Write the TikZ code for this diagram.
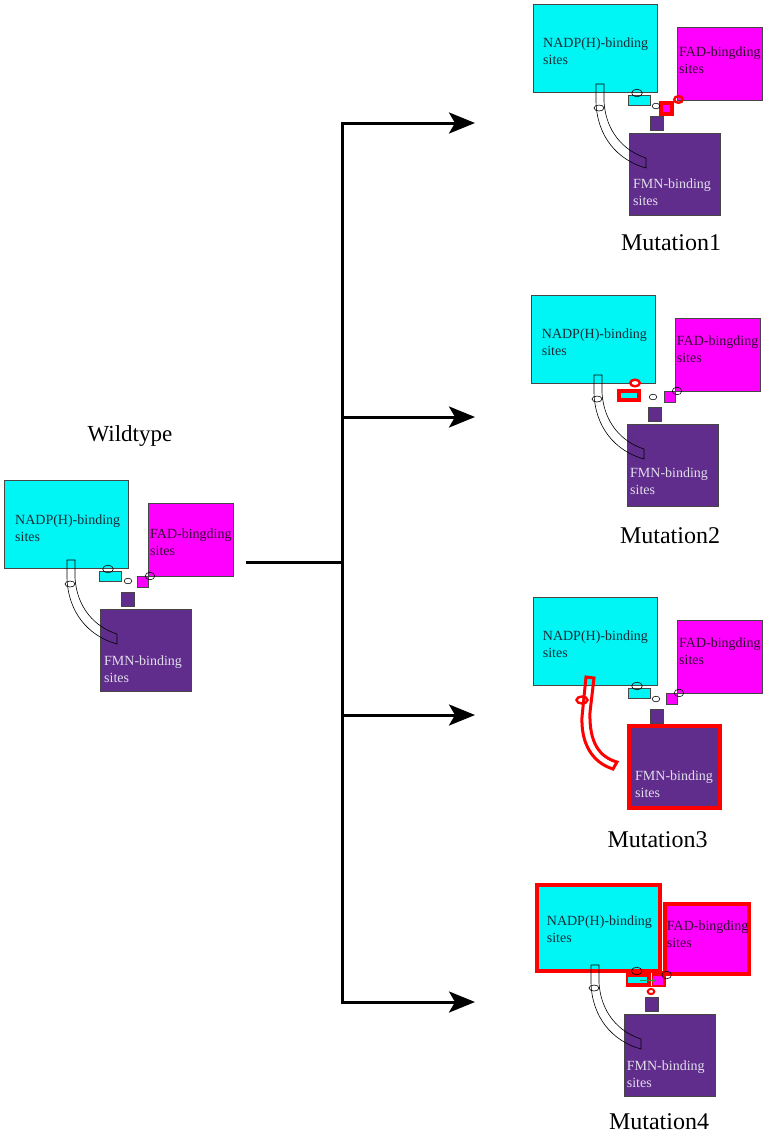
\documentclass[tikz,border=0pt]{standalone}
\usepackage{fontspec}
\setmainfont{Liberation Serif}
\usetikzlibrary{arrows.meta}
\definecolor{cy}{RGB}{0,245,245}
\definecolor{mg}{RGB}{255,0,255}
\definecolor{pu}{RGB}{97,45,140}
\definecolor{edgec}{RGB}{70,70,70}
\definecolor{nadptext}{RGB}{25,45,55}
\definecolor{fadtext}{RGB}{50,10,50}
\definecolor{fmntext}{RGB}{225,222,235}
\definecolor{hl}{RGB}{255,0,0}
\definecolor{gr}{RGB}{40,160,60}
\begin{document}
\begin{tikzpicture}[x=1pt,y=-1pt,
 box/.style={draw=edgec,line width=0.7pt},
 hlbox/.style={draw=hl,line width=3.5pt},
 ring/.style={draw=black,line width=0.6pt},
 hlring/.style={draw=hl,line width=2.4pt},
 tubeline/.style={draw=black,line width=0.6pt},
 hltube/.style={draw=hl,line width=3pt},
 lbl/.style={inner sep=0pt,anchor=north west,align=left,font=\fontsize{14}{17}\selectfont},
 nadplbl/.style={lbl,text=nadptext},
 fadlbl/.style={lbl,text=fadtext},
 fmnlbl/.style={lbl,text=fmntext},
 caption/.style={inner sep=0pt,anchor=base,font=\fontsize{24}{28}\selectfont},
 flow/.style={line width=3pt,-{Stealth[length=26pt,width=21pt,inset=6pt]}},
 flowline/.style={line width=3pt}]
\fill[white] (0,0) rectangle (767,1135);
\useasboundingbox (0,0) rectangle (767,1135);

% ---------------- Wildtype ----------------
\begin{scope}
\draw[box,fill=cy] (4,480) rectangle (128,568);
\draw[box,fill=mg] (148,503) rectangle (233,576);
\draw[box,fill=pu] (100,609) rectangle (191,691);
\draw[box,fill=cy] (99,571) rectangle (121,581);
\draw[box,fill=mg] (137,576) rectangle (148,587);
\draw[box,fill=pu] (121,592) rectangle (134,606);
\draw[tubeline] (67,560) -- (75,560) -- (75,578) .. controls (77,608) and (95,627) .. (117,634) -- (117,644) .. controls (88,636) and (68,612) .. (67,578) -- cycle;
\draw[ring] (70,584) ellipse [x radius=5pt,y radius=3pt];
\draw[ring] (108,569) ellipse [x radius=5.3pt,y radius=3.8pt];
\draw[ring] (128,581) ellipse [x radius=3.8pt,y radius=2.8pt];
\draw[ring] (150,576) ellipse [x radius=4.8pt,y radius=3.8pt];
\node[nadplbl] (wt-nadp) at (15,514.4) {NADP(H)-binding\\sites};
\node[fadlbl] (wt-fad) at (150,528.4) {FAD-bingding\\sites};
\node[fmnlbl] (wt-fmn) at (104,655.4) {FMN-binding\\sites};
\end{scope}
\node[caption,font=\fontsize{23}{28}\selectfont] (wt-title) at (130,441) {Wildtype};

% ---------------- Mutation1 ----------------
\begin{scope}[shift={(529,-476)}]
\draw[box,fill=cy] (4,480) rectangle (128,568);
\draw[box,fill=mg] (148,503) rectangle (233,576);
\draw[box,fill=pu] (100,609) rectangle (191,691);
\draw[box,fill=cy] (99,571) rectangle (121,581);
\draw[hlbox,fill=mg] (132,579) rectangle (143,590);
\draw[box,fill=pu] (121,592) rectangle (134,606);
\draw[tubeline] (67,560) -- (75,560) -- (75,578) .. controls (77,608) and (95,627) .. (117,634) -- (117,644) .. controls (88,636) and (68,612) .. (67,578) -- cycle;
\draw[ring] (70,584) ellipse [x radius=5pt,y radius=3pt];
\draw[ring] (108,569) ellipse [x radius=5.3pt,y radius=3.8pt];
\draw[ring] (127,582) ellipse [x radius=3.8pt,y radius=2.8pt];
\draw[hlring] (149.5,575.5) ellipse [x radius=4.3pt,y radius=3.3pt];
\node[nadplbl] (m1-nadp) at (14,513.4) {NADP(H)-binding\\sites};
\node[fadlbl] (m1-fad) at (150,522.4) {FAD-bingding\\sites};
\node[fmnlbl] (m1-fmn) at (104,654.4) {FMN-binding\\sites};
\end{scope}
\node[caption] (m1-title) at (671,250) {Mutation1};

% ---------------- Mutation2 ----------------
\begin{scope}[shift={(527,-185)}]
\draw[box,fill=cy] (4,480) rectangle (128,568);
\draw[box,fill=mg] (148,503) rectangle (233,576);
\draw[box,fill=pu] (100,609) rectangle (191,691);
\draw[hlbox,fill=cy] (92,576) rectangle (112,585);
\draw[box,fill=mg] (137,576) rectangle (148,587);
\draw[box,fill=pu] (121,592) rectangle (134,606);
\draw[tubeline] (67,560) -- (75,560) -- (75,578) .. controls (77,608) and (95,627) .. (117,634) -- (117,644) .. controls (88,636) and (68,612) .. (67,578) -- cycle;
\draw[ring] (70,584) ellipse [x radius=5pt,y radius=3pt];
\draw[hlring,fill=white] (108,568) ellipse [x radius=4.8pt,y radius=3.3pt];
\draw[ring] (126,582) ellipse [x radius=3.8pt,y radius=2.8pt];
\draw[ring] (150,576) ellipse [x radius=4.8pt,y radius=3.8pt];
\node[nadplbl] (m2-nadp) at (14.7,513.4) {NADP(H)-binding\\sites};
\node[fadlbl] (m2-fad) at (149.7,520.4) {FAD-bingding\\sites};
\node[fmnlbl] (m2-fmn) at (103,652.4) {FMN-binding\\sites};
\end{scope}
\node[caption] (m2-title) at (670,543) {Mutation2};

% ---------------- Mutation3 ----------------
\begin{scope}[shift={(529,117)}]
\draw[box,fill=cy] (4,480) rectangle (128,568);
\draw[box,fill=mg] (148,503) rectangle (233,576);
\draw[hlbox,line width=4pt,fill=pu] (100,609) rectangle (191,691);
\draw[box,fill=cy] (99,571) rectangle (121,581);
\draw[box,fill=mg] (137,576) rectangle (148,587);
\draw[box,fill=pu] (121,592) rectangle (134,606);
\draw[hltube] (57,560) -- (65,561) -- (61,595) .. controls (60,625) and (70,640) .. (88,645) -- (84,652) .. controls (62,645) and (52,625) .. (53,600) -- cycle;
\draw[hlring] (53,583) ellipse [x radius=5.5pt,y radius=3.5pt];
\draw[ring] (108,569) ellipse [x radius=5.3pt,y radius=3.8pt];
\draw[ring] (127,582) ellipse [x radius=3.8pt,y radius=2.8pt];
\draw[ring] (150,576) ellipse [x radius=4.8pt,y radius=3.8pt];
\node[nadplbl] (m3-nadp) at (13.7,513.4) {NADP(H)-binding\\sites};
\node[fadlbl] (m3-fad) at (150,520.4) {FAD-bingding\\sites};
\node[fmnlbl] (m3-fmn) at (106,653.4) {FMN-binding\\sites};
\end{scope}
\node[caption] (m3-title) at (657.5,847) {Mutation3};

% ---------------- Mutation4 ----------------
\begin{scope}[shift={(524,405)}]
\draw[hlbox,fill=cy] (13,480) rectangle (136,566);
\draw[hlbox,fill=mg] (141,499) rectangle (225,569);
\draw[box,fill=pu] (100,609) rectangle (191,691);
\fill[hl] (102,566) rectangle (142,582);
\fill[cy] (104,572) rectangle (123,578);
\fill[mg] (129,571) rectangle (139,580);
\draw[white,line width=1pt] (127.5,568) -- (127.5,581);
\coordinate (m4-ga) at (116,575.5);
\coordinate (m4-gb) at (132,575.5);
\draw[gr,line width=0.9pt,-{Stealth[length=4pt,width=4pt]}] (m4-ga) -- (m4-gb);
\draw[box,fill=pu] (121,592) rectangle (134,606);
\draw[tubeline] (67,560) -- (75,560) -- (75,578) .. controls (77,608) and (95,627) .. (117,634) -- (117,644) .. controls (88,636) and (68,612) .. (67,578) -- cycle;
\draw[ring] (70,583) ellipse [x radius=5pt,y radius=3pt];
\draw[ring] (112.7,566) ellipse [x radius=5.3pt,y radius=3.8pt];
\draw[ring] (142.7,570) ellipse [x radius=4.8pt,y radius=3.8pt];
\draw[hlring,line width=2pt,fill=white] (127,586.5) ellipse [x radius=3.3pt,y radius=2.6pt];
\node[nadplbl] (m4-nadp) at (22.7,510.4) {NADP(H)-binding\\sites};
\node[fadlbl] (m4-fad) at (142.7,515.4) {FAD-bingding\\sites};
\node[fmnlbl] (m4-fmn) at (102.7,655.4) {FMN-binding\\sites};
\end{scope}
\node[caption] (m4-title) at (659,1129) {Mutation4};

% ---------------- Branching arrows ----------------
\coordinate (wt-out) at (246,562);
\coordinate (hub) at (342,562);
\coordinate (b1) at (342,123);
\coordinate (b2) at (342,417);
\coordinate (b3) at (342,715);
\coordinate (b4) at (342,1002);
\coordinate (t1) at (475,123);
\coordinate (t2) at (475,417);
\coordinate (t3) at (475,715);
\coordinate (t4) at (475,1002);
\draw[flowline] (wt-out) -- (hub);
\draw[flow] (b4) -- (b1) -- (t1);
\draw[flow] (b1) -- (b4) -- (t4);
\draw[flow] (b2) -- (t2);
\draw[flow] (b3) -- (t3);
\end{tikzpicture}
\end{document}
